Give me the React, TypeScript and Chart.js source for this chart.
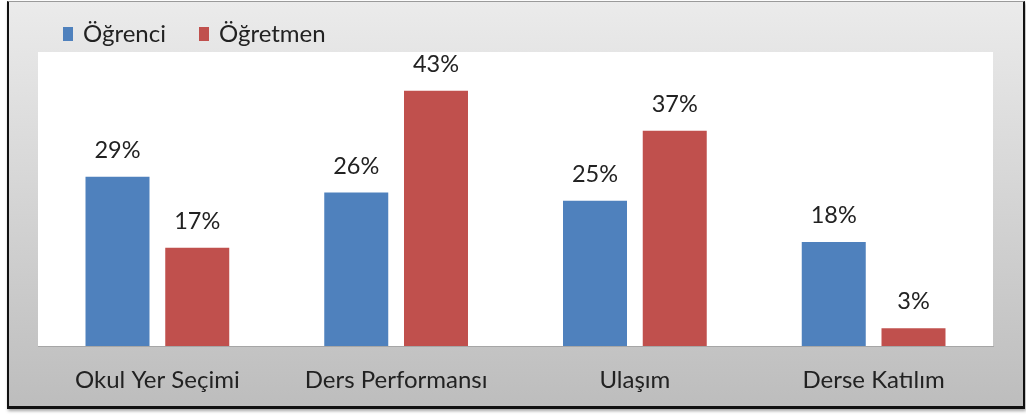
import React, { useEffect, useRef } from "react";
import { Chart, registerables } from "chart.js";

Chart.register(...registerables);

const categories = ["Okul Yer Seçimi", "Ders Performansı", "Ulaşım", "Derse Katılım"];
const ogrenciValues = [28.8, 26.1, 24.7, 17.7];
const ogretmenValues = [16.7, 43.4, 36.6, 3.0];
const seriesNames = ["Öğrenci", "Öğretmen"];
const seriesColors = ["#4F81BD", "#C0504D"];

const FONT = "Lato";
const TEXT_COLOR = "#222222";

export default function App() {
  const ref = useRef<HTMLCanvasElement | null>(null);

  useEffect(() => {
    if (!ref.current) return;

    const plotBg = {
      id: "plotBg",
      beforeDraw(chart: any) {
        const { ctx, chartArea } = chart;
        ctx.save();
        ctx.fillStyle = "#ffffff";
        ctx.fillRect(chartArea.left, chartArea.top, chartArea.right - chartArea.left, chartArea.bottom - chartArea.top);
        ctx.restore();
      },
    };

    const dataLabels = {
      id: "dataLabels",
      afterDatasetsDraw(chart: any) {
        const { ctx } = chart;
        ctx.save();
        ctx.font = `23.5px ${FONT}`;
        ctx.fillStyle = TEXT_COLOR;
        ctx.textAlign = "center";
        ctx.textBaseline = "alphabetic";
        chart.data.datasets.forEach((ds: any, i: number) => {
          const meta = chart.getDatasetMeta(i);
          meta.data.forEach((el: any, j: number) => {
            const v = ds.data[j];
            ctx.fillText(`${Math.round(v)}%`, el.x, el.y - 19);
          });
        });
        ctx.restore();
      },
    };

    const customLegend = {
      id: "customLegend",
      afterDraw(chart: any) {
        const { ctx } = chart;
        ctx.save();
        ctx.font = `24px ${FONT}`;
        ctx.textBaseline = "alphabetic";
        ctx.textAlign = "left";
        const boxXs = [63, 199];
        chart.data.datasets.forEach((ds: any, i: number) => {
          const bx = boxXs[i];
          ctx.fillStyle = ds.backgroundColor;
          ctx.fillRect(bx, 27, 10, 14);
          ctx.fillStyle = TEXT_COLOR;
          ctx.fillText(ds.label, bx + 20, 41.5);
        });
        ctx.restore();
      },
    };

    const chart = new Chart(ref.current, {
      type: "bar",
      data: {
        labels: categories,
        datasets: [
          {
            label: seriesNames[0],
            data: ogrenciValues,
            backgroundColor: seriesColors[0],
            categoryPercentage: 0.668,
            barPercentage: 0.8025,
          },
          {
            label: seriesNames[1],
            data: ogretmenValues,
            backgroundColor: seriesColors[1],
            categoryPercentage: 0.668,
            barPercentage: 0.8025,
          },
        ],
      },
      options: {
        responsive: false,
        animation: false,
        devicePixelRatio: 1,
        layout: { padding: { left: 0, right: 33, top: 52, bottom: 0 } },
        plugins: {
          legend: { display: false },
          tooltip: { enabled: false },
        },
        scales: {
          x: {
            grid: { display: false, drawTicks: false },
            border: { display: true, color: "#A6A6A6", width: 1 },
            ticks: {
              font: { family: FONT, size: 24 },
              color: TEXT_COLOR,
              padding: 20,
              maxRotation: 0,
              autoSkip: false,
            },
            afterFit(scale: any) {
              scale.height = 69;
            },
          },
          y: {
            min: 0,
            max: 50,
            display: true,
            grid: { display: false, drawTicks: false },
            border: { display: false },
            ticks: { display: false },
            afterFit(scale: any) {
              scale.width = 38;
            },
          },
        },
      },
      plugins: [plotBg, dataLabels, customLegend],
    });

    return () => chart.destroy();
  }, []);

  return (
    <div style={{ position: "fixed", left: 0, top: 0, width: 1026, height: 415, background: "#ffffff", overflow: "hidden" }}>
      <div
        style={{
          position: "absolute",
          left: 7,
          top: 1,
          width: 1018,
          height: 408,
          boxSizing: "border-box",
          borderLeft: "2px solid #111",
          borderRight: "2px solid #111",
          borderBottom: "3px solid #111",
          borderTop: "1px solid #9a9a9a",
          background: "linear-gradient(to bottom, #ebebeb, #bdbdbd)",
          boxShadow: "1px 2px 3px rgba(0,0,0,0.35)",
        }}
      />
      <canvas
        ref={ref}
        width={1026}
        height={415}
        style={{ position: "absolute", left: 0, top: 0, width: 1026, height: 415 }}
      />
    </div>
  );
}
